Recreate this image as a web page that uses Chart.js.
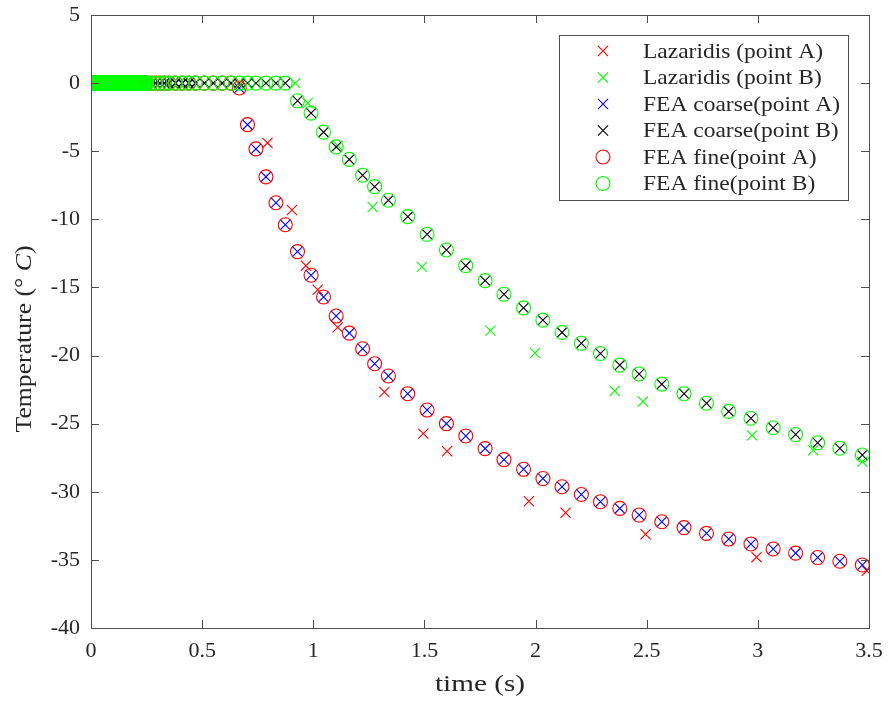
<!DOCTYPE html>
<html>
<head>
<meta charset="utf-8">
<script src="https://cdn.jsdelivr.net/npm/chart.js@4/dist/chart.umd.min.js"></script>
<style>
  html, body { margin: 0; padding: 0; background: #ffffff; }
  #wrap { width: 889px; height: 702px; position: relative; }
</style>
</head>
<body>
<div id="wrap"><canvas id="c" width="889" height="702"></canvas></div>
<script>
// ---------------- DATA ----------------
const seriesNames = [
  "Lazaridis (point A)",
  "Lazaridis (point B)",
  "FEA coarse(point A)",
  "FEA coarse(point B)",
  "FEA fine(point A)",
  "FEA fine(point B)"
];

// Lazaridis reference points
const lazTimeA = [0.672, 0.794, 0.904, 0.967, 1.020, 1.110, 1.320, 1.495, 1.602, 1.970, 2.135, 2.495, 2.994, 3.490];
const lazTempA = [-0.1, -4.39, -9.32, -13.4, -15.17, -17.93, -22.68, -25.73, -27.03, -30.69, -31.54, -33.12, -34.8, -35.8];
const lazTimeB = [0.919, 0.975, 1.110, 1.267, 1.489, 1.797, 1.998, 2.356, 2.483, 2.974, 3.249, 3.470];
const lazTempB = [0, -1.46, -4.6, -9.1, -13.49, -18.17, -19.81, -22.6, -23.37, -25.86, -26.95, -27.8];

// FEA: early (pre-cooling) output times, where both points stay at 0
const feaEarlyTime = [
  0, 0.0025, 0.005, 0.0075, 0.01, 0.0125, 0.015, 0.0175, 0.02, 0.0225, 0.025, 0.0275, 0.03, 0.0325, 0.035, 0.0375, 0.04, 0.0425, 0.045, 0.0475,
  0.05, 0.0525, 0.055, 0.0575, 0.06, 0.0625, 0.065, 0.0675, 0.07, 0.0725, 0.075, 0.0775, 0.08, 0.0825, 0.085, 0.0875, 0.09, 0.0925, 0.095, 0.0975,
  0.1, 0.1025, 0.105, 0.1075, 0.11, 0.1125, 0.115, 0.1175, 0.12, 0.1225, 0.125, 0.1275, 0.13, 0.1325, 0.135, 0.1375, 0.14, 0.1425, 0.145, 0.1475,
  0.15, 0.1525, 0.155, 0.1575, 0.16, 0.1625, 0.165, 0.1675, 0.17, 0.1725, 0.175, 0.1775, 0.18, 0.1825, 0.185, 0.1875, 0.19, 0.1925, 0.195, 0.1975,
  0.2, 0.2025, 0.205, 0.2075, 0.21, 0.2125, 0.215, 0.2175, 0.22, 0.2225, 0.225, 0.2275, 0.23, 0.2325, 0.235, 0.2375, 0.24, 0.2425, 0.245, 0.2475,
  0.25, 0.27, 0.29, 0.31, 0.33, 0.35, 0.38, 0.41, 0.44, 0.47, 0.51, 0.55, 0.59, 0.63
];
const feaEarlyTemp = [
  0, 0, 0, 0, 0, 0, 0, 0, 0, 0, 0, 0, 0, 0, 0, 0, 0, 0, 0, 0,
  0, 0, 0, 0, 0, 0, 0, 0, 0, 0, 0, 0, 0, 0, 0, 0, 0, 0, 0, 0,
  0, 0, 0, 0, 0, 0, 0, 0, 0, 0, 0, 0, 0, 0, 0, 0, 0, 0, 0, 0,
  0, 0, 0, 0, 0, 0, 0, 0, 0, 0, 0, 0, 0, 0, 0, 0, 0, 0, 0, 0,
  0, 0, 0, 0, 0, 0, 0, 0, 0, 0, 0, 0, 0, 0, 0, 0, 0, 0, 0, 0,
  0, 0, 0, 0, 0, 0, 0, 0, 0, 0, 0, 0, 0, 0
];

// FEA: cooling phase output times (shared by coarse and fine meshes)
const feaTime = [
  0.667, 0.704, 0.742, 0.787, 0.832, 0.874,
  0.929, 0.990, 1.046, 1.103, 1.162, 1.222, 1.276, 1.338,
  1.425, 1.512, 1.599, 1.686, 1.773, 1.858, 1.946, 2.033, 2.119, 2.206, 2.292, 2.379, 2.466,
  2.568, 2.668, 2.769, 2.869, 2.969, 3.069, 3.170, 3.269, 3.369, 3.470
];
const feaTempA = [
  -0.36, -3.05, -4.83, -6.88, -8.78, -10.4,
  -12.37, -14.1, -15.7, -17.1, -18.35, -19.5, -20.6, -21.5,
  -22.8, -24.0, -25.0, -25.9, -26.83, -27.64, -28.35, -29.03, -29.63, -30.2, -30.73, -31.22, -31.71,
  -32.2, -32.63, -33.05, -33.47, -33.83, -34.2, -34.5, -34.83, -35.1, -35.37
];
const feaTempB = [
  0, 0, 0, 0, 0, 0,
  -1.3, -2.2, -3.6, -4.68, -5.6, -6.76, -7.6, -8.6,
  -9.8, -11.1, -12.25, -13.4, -14.5, -15.5, -16.5, -17.4, -18.3, -19.1, -19.85, -20.7, -21.35,
  -22.1, -22.8, -23.5, -24.1, -24.6, -25.3, -25.8, -26.4, -26.8, -27.3
];

const xTicks = [0, 0.5, 1, 1.5, 2, 2.5, 3, 3.5];
const xTickLabels = ["0", "0.5", "1", "1.5", "2", "2.5", "3", "3.5"];
const yTicks = [-40, -35, -30, -25, -20, -15, -10, -5, 0, 5];
const yTickLabels = ["-40", "-35", "-30", "-25", "-20", "-15", "-10", "-5", "0", "5"];
const xTitle = "time (s)";
const yTitleParts = ["Temperature (", "\u00B0 ", "C", ")"];

// ---------------- HELPERS ----------------
function pts(xs, ys) { return xs.map((x, i) => ({ x: x, y: ys[i] })); }
const feaA = pts(feaEarlyTime, feaEarlyTemp).concat(pts(feaTime, feaTempA));
const feaB = pts(feaEarlyTime, feaEarlyTemp).concat(pts(feaTime, feaTempB));

const colors = ["#ff0000", "#00ff00", "#0000ff", "#000000", "#ff0000", "#00ff00"];
const styles = ["crossRot", "crossRot", "crossRot", "crossRot", "circle", "circle"];
const radii  = [7.2, 7.2, 7.2, 7.2, 7, 7];
const dataSets = [
  pts(lazTimeA, lazTempA),
  pts(lazTimeB, lazTempB),
  feaA,
  feaB,
  feaA,
  feaB
];

const TEXT = "#262626";
const AXIS = "#4d4d4d";
const FONT = "'Liberation Serif', 'Times New Roman', serif";

const datasets = dataSets.map((d, i) => ({
  label: seriesNames[i],
  data: d,
  showLine: false,
  pointStyle: styles[i],
  pointRadius: radii[i],
  pointHoverRadius: radii[i],
  pointBorderWidth: 1.1,
  pointHoverBorderWidth: 1.1,
  borderColor: colors[i],
  backgroundColor: "rgba(0,0,0,0)",
  pointBackgroundColor: "rgba(0,0,0,0)",
  order: 6 - i   // later series drawn on top
}));

// draw text stretched horizontally (wider serif face)
function wideText(ctx, parts, fonts, cx, cy, targetWidth, align) {
  let total = 0;
  const widths = parts.map((s, i) => { ctx.font = fonts[i]; const w = ctx.measureText(s).width; total += w; return w; });
  const k = targetWidth ? targetWidth / total : 1;
  ctx.save();
  ctx.translate(cx, cy);
  ctx.scale(k, 1);
  let x0 = align === "left" ? 0 : -total / 2;
  ctx.textAlign = "left";
  parts.forEach((s, i) => { ctx.font = fonts[i]; ctx.fillText(s, x0, 0); x0 += widths[i]; });
  ctx.restore();
}

const decorPlugin = {
  id: "decor",
  afterDraw(chart) {
    const ctx = chart.ctx;
    const a = chart.chartArea;
    const xs = chart.scales.x, ys = chart.scales.y;
    ctx.save();
    // box
    ctx.strokeStyle = AXIS;
    ctx.lineWidth = 1;
    ctx.strokeRect(Math.round(a.left) + 0.5, Math.round(a.top) + 0.5,
                   Math.round(a.right - a.left), Math.round(a.bottom - a.top));
    // inward ticks on all sides
    const tl = 8;
    ctx.beginPath();
    xTicks.forEach(v => {
      const px = Math.round(xs.getPixelForValue(v)) + 0.5;
      ctx.moveTo(px, a.bottom); ctx.lineTo(px, a.bottom - tl);
      ctx.moveTo(px, a.top); ctx.lineTo(px, a.top + tl);
    });
    yTicks.forEach(v => {
      const py = Math.round(ys.getPixelForValue(v)) + 0.5;
      ctx.moveTo(a.left, py); ctx.lineTo(a.left + tl, py);
      ctx.moveTo(a.right, py); ctx.lineTo(a.right - tl, py);
    });
    ctx.stroke();

    // axis titles
    ctx.fillStyle = TEXT;
    ctx.textBaseline = "middle";
    const fN = "23px " + FONT, fI = "italic 23px " + FONT;
    wideText(ctx, [xTitle], [fN], (a.left + a.right) / 2, 685, 90);

    ctx.save();
    ctx.translate(25, 339);
    ctx.rotate(-Math.PI / 2);
    wideText(ctx, yTitleParts, [fN, fN, fI, fN], 0, 0, 187);
    ctx.restore();

    // legend
    const L = 559.5, T = 35.5, R = 848.5, B = 200.5;
    ctx.fillStyle = "#ffffff";
    ctx.fillRect(L, T, R - L, B - T);
    ctx.strokeStyle = AXIS;
    ctx.lineWidth = 1;
    ctx.strokeRect(L, T, R - L, B - T);
    const rowY = [51, 77.5, 104, 130.5, 157, 183.5];
    const lf = "21px " + FONT;
    ctx.font = lf;
    const kLeg = 180 / ctx.measureText(seriesNames[0]).width;
    ctx.textBaseline = "middle";
    seriesNames.forEach((name, i) => {
      const mx = 603, my = rowY[i];
      ctx.strokeStyle = colors[i];
      ctx.lineWidth = 1.1;
      ctx.beginPath();
      if (styles[i] === "circle") {
        ctx.arc(mx, my, radii[i], 0, Math.PI * 2);
      } else {
        const h = radii[i] * Math.SQRT1_2;
        ctx.moveTo(mx - h, my - h); ctx.lineTo(mx + h, my + h);
        ctx.moveTo(mx - h, my + h); ctx.lineTo(mx + h, my - h);
      }
      ctx.stroke();
      ctx.fillStyle = TEXT;
      ctx.save();
      ctx.translate(643, my + 1);
      ctx.scale(kLeg, 1);
      ctx.font = lf;
      ctx.textAlign = "left";
      ctx.fillText(name, 0, 0);
      ctx.restore();
    });
    ctx.restore();
  }
};

new Chart(document.getElementById("c"), {
  type: "scatter",
  data: { datasets: datasets },
  options: {
    responsive: false,
    animation: false,
    events: [],
    layout: { padding: { left: 0, right: 20, top: 15, bottom: 0 } },
    plugins: { legend: { display: false }, tooltip: { enabled: false } },
    scales: {
      x: {
        type: "linear", min: 0, max: 3.5,
        afterFit(s) { s.height = 74; s.paddingLeft = 0; s.paddingRight = 0; },
        afterBuildTicks(s) { s.ticks = xTicks.map(v => ({ value: v })); },
        grid: { display: false, drawTicks: false },
        border: { display: false },
        ticks: {
          color: TEXT, padding: 10, font: { family: FONT, size: 22 }, maxRotation: 0, autoSkip: false,
          callback: (v) => xTickLabels[xTicks.indexOf(v)]
        }
      },
      y: {
        type: "linear", min: -40, max: 5,
        afterFit(s) { s.width = 91; s.paddingTop = 0; s.paddingBottom = 0; },
        afterBuildTicks(s) { s.ticks = yTicks.map(v => ({ value: v })); },
        grid: { display: false, drawTicks: false },
        border: { display: false },
        ticks: {
          color: TEXT, padding: 11, font: { family: FONT, size: 22 }, autoSkip: false,
          callback: (v) => yTickLabels[yTicks.indexOf(v)]
        }
      }
    }
  },
  plugins: [decorPlugin]
});
</script>
</body>
</html>
